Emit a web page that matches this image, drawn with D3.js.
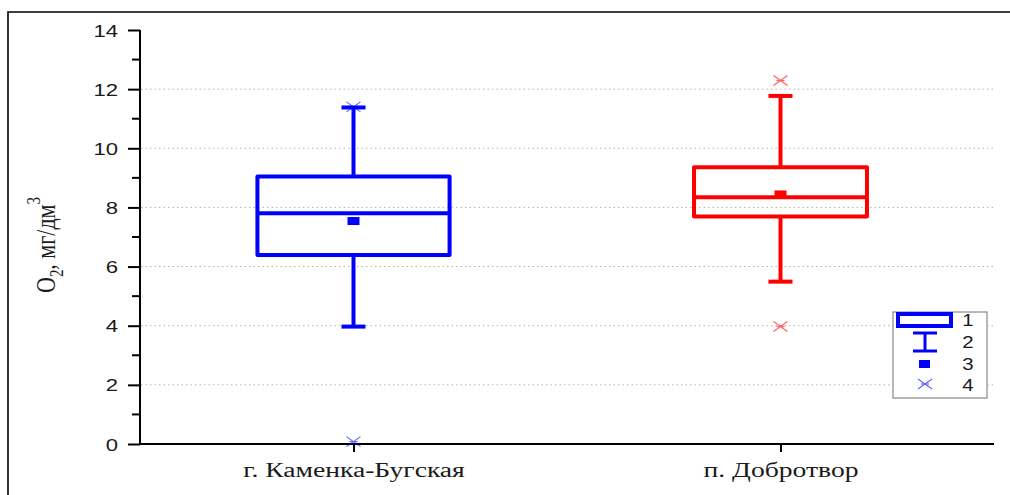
<!DOCTYPE html>
<html>
<head>
<meta charset="utf-8">
<script src="https://cdn.jsdelivr.net/npm/d3@7"></script>
<style>
  html, body { margin: 0; padding: 0; background: #fff; }
  svg { display: block; }
</style>
</head>
<body>
<svg id="chart" width="1010" height="495"></svg>
<script>
// Dissolved oxygen at two sites: box statistics per site
const categories = ["г. Каменка-Бугская", "п. Добротвор"];
const q1Values      = [6.39, 7.69];
const medianValues  = [7.80, 8.34];
const q3Values      = [9.05, 9.36];
const meanValues    = [7.54, 8.44];
const whiskerLow    = [3.97, 5.49];
const whiskerHigh   = [11.38, 11.77];
const outlierValues = [[0.08, 11.40], [3.97, 12.29]];
const yTicks = [0, 2, 4, 6, 8, 10, 12, 14];
const legendLabels = ["1", "2", "3", "4"];

const colors = ["#0000ff", "#ff0000"];
const boxWidthFrac = [0.45, 0.405];

const svg = d3.select("#chart");

// outer frame (top and left edges)
svg.append("path")
  .attr("d", "M8,495V12H1010")
  .attr("fill", "none").attr("stroke", "#000").attr("stroke-width", 1.6);

const plot = { left: 140, right: 994, top: 30, bottom: 444 };

const y = d3.scaleLinear().domain([0, 14]).range([plot.bottom, plot.top]);
const x = d3.scalePoint().domain(categories).range([plot.left, plot.right]).padding(0.5);

// dotted grid
svg.append("g").selectAll("line")
  .data(yTicks.filter(t => t > 0 && t < 14))
  .join("line")
  .attr("x1", plot.left + 1).attr("x2", plot.right)
  .attr("y1", d => y(d)).attr("y2", d => y(d))
  .attr("stroke", "#b4b4b4").attr("stroke-width", 1)
  .attr("stroke-dasharray", "1.5,3");

// y axis with minor ticks
const yAxis = svg.append("g")
  .attr("transform", `translate(${plot.left},0)`)
  .call(d3.axisLeft(y).tickValues(yTicks).tickSize(12).tickPadding(11).tickFormat(d3.format("d")));
yAxis.select(".domain").attr("stroke", "#000").attr("stroke-width", 2).attr("d", `M0,${plot.top}V${plot.bottom}`);
yAxis.selectAll(".tick line").attr("stroke", "#000").attr("stroke-width", 2);
yAxis.selectAll(".tick text")
  .attr("font-family", "Liberation Sans, Arial, sans-serif")
  .attr("font-size", 17).attr("fill", "#1a1a1a")
  .attr("x", 0).attr("dy", "0.36em")
  .attr("transform", "translate(-22,0) scale(1.3,1)");

const minorTicks = d3.range(1, 14, 2);
yAxis.append("g").selectAll("line")
  .data(minorTicks).join("line")
  .attr("x1", -8).attr("x2", 0)
  .attr("y1", d => y(d)).attr("y2", d => y(d))
  .attr("stroke", "#000").attr("stroke-width", 2);

// x axis
const xAxis = svg.append("g")
  .attr("transform", `translate(0,${plot.bottom})`)
  .call(d3.axisBottom(x).tickSize(8).tickPadding(13));
xAxis.select(".domain").attr("stroke", "#000").attr("stroke-width", 2).attr("d", `M${plot.left - 1},0H${plot.right}`);
xAxis.selectAll(".tick line").attr("stroke", "#000").attr("stroke-width", 2);
xAxis.selectAll(".tick text")
  .attr("font-family", "Liberation Serif, Times New Roman, serif")
  .attr("font-size", 20).attr("fill", "#1a1a1a")
  .attr("x", 0).attr("y", 0).attr("dy", 0)
  .attr("transform", "translate(0,33) scale(1.38,1)");

// y axis title
const yTitle = svg.append("text")
  .attr("transform", `translate(55,245) scale(1.25,1) rotate(-90)`)
  .attr("text-anchor", "middle")
  .attr("font-family", "Liberation Serif, Times New Roman, serif")
  .attr("font-size", 22).attr("fill", "#1a1a1a");
yTitle.append("tspan").text("O");
yTitle.append("tspan").attr("font-size", 15).attr("dy", 6).text("2");
yTitle.append("tspan").attr("dy", -6).text(", мг/дм");
yTitle.append("tspan").attr("font-size", 15).attr("dy", -12).text("3");

// boxes
const step = x.step();
const sw = 4;
categories.forEach((c, i) => {
  const cx = x(c);
  const hw = step * boxWidthFrac[i] / 2;
  const capW = 12;
  const g = svg.append("g").attr("stroke", colors[i]).attr("stroke-width", sw).attr("fill", "none");
  // whiskers
  g.append("line").attr("x1", cx).attr("x2", cx).attr("y1", y(q3Values[i])).attr("y2", y(whiskerHigh[i]));
  g.append("line").attr("x1", cx).attr("x2", cx).attr("y1", y(q1Values[i])).attr("y2", y(whiskerLow[i]));
  g.append("line").attr("x1", cx - capW).attr("x2", cx + capW).attr("y1", y(whiskerHigh[i])).attr("y2", y(whiskerHigh[i]));
  g.append("line").attr("x1", cx - capW).attr("x2", cx + capW).attr("y1", y(whiskerLow[i])).attr("y2", y(whiskerLow[i]));
  // box
  g.append("rect").attr("x", cx - hw).attr("y", y(q3Values[i]))
    .attr("width", 2 * hw).attr("height", y(q1Values[i]) - y(q3Values[i]))
    .attr("stroke-linejoin", "round");
  // median
  g.append("line").attr("x1", cx - hw).attr("x2", cx + hw).attr("y1", y(medianValues[i])).attr("y2", y(medianValues[i]));
  // mean
  svg.append("rect").attr("x", cx - 6).attr("y", y(meanValues[i]) - 4)
    .attr("width", 12).attr("height", 8).attr("fill", colors[i]);
  // outliers
  outlierValues[i].forEach(v => drawCross(svg, cx, y(v), colors[i]));
});

function drawCross(parent, cx, cy, col) {
  const g = parent.append("g").attr("stroke", col).attr("stroke-width", 1.2).attr("opacity", 0.6);
  g.append("line").attr("x1", cx - 7).attr("x2", cx + 7).attr("y1", cy - 5).attr("y2", cy + 5);
  g.append("line").attr("x1", cx - 7).attr("x2", cx + 7).attr("y1", cy + 5).attr("y2", cy - 5);
  g.append("line").attr("x1", cx - 4).attr("x2", cx + 4).attr("y1", cy).attr("y2", cy);
}

// legend
const lg = svg.append("g");
lg.append("rect").attr("x", 893).attr("y", 312).attr("width", 94).attr("height", 86)
  .attr("fill", "#fff").attr("stroke", "#888").attr("stroke-width", 1.2);
const lc = 925, ly = [320, 342, 364, 385];
lg.append("rect").attr("x", 898).attr("y", 314).attr("width", 53).attr("height", 12)
  .attr("fill", "none").attr("stroke", colors[0]).attr("stroke-width", 4);
const wg = lg.append("g").attr("stroke", colors[0]).attr("stroke-width", 3);
wg.append("line").attr("x1", lc - 12).attr("x2", lc + 12).attr("y1", 333).attr("y2", 333);
wg.append("line").attr("x1", lc).attr("x2", lc).attr("y1", 333).attr("y2", 351);
wg.append("line").attr("x1", lc - 12).attr("x2", lc + 12).attr("y1", 351).attr("y2", 351);
lg.append("rect").attr("x", lc - 6).attr("y", 360).attr("width", 11).attr("height", 8).attr("fill", colors[0]);
drawCross(lg, lc, 384, colors[0]);
lg.selectAll("text.lab").data(legendLabels).join("text")
  .attr("class", "lab")
  .attr("transform", (d, i) => `translate(968,${ly[i]}) scale(1.2,1)`)
  .attr("text-anchor", "middle").attr("dy", "0.36em")
  .attr("font-family", "Liberation Sans, Arial, sans-serif")
  .attr("font-size", 17).attr("fill", "#1a1a1a")
  .text(d => d);
</script>
</body>
</html>
